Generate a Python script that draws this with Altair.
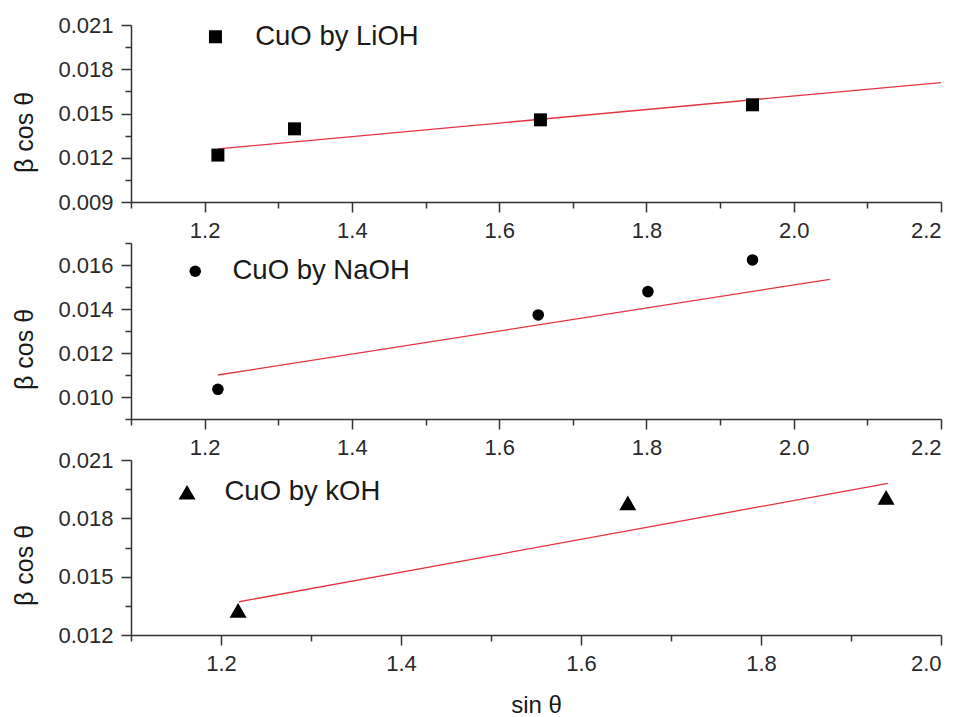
import altair as alt
import pandas as pd

FONT = "Liberation Sans"

# ---------------- data ----------------
# Panel 1: CuO by LiOH
li_label = "CuO by LiOH"
li_x = [1.218, 1.322, 1.656, 1.944]
li_y = [0.01218, 0.01396, 0.01457, 0.01559]
li_fit_x = [1.218, 2.2]
li_fit_y = [0.0126, 0.0171]

# Panel 2: CuO by NaOH
na_label = "CuO by NaOH"
na_x = [1.218, 1.653, 1.802, 1.944]
na_y = [0.01035, 0.01373, 0.01479, 0.01623]
na_fit_x = [1.218, 2.049]
na_fit_y = [0.0110, 0.01535]

# Panel 3: CuO by kOH
k_label = "CuO by kOH"
k_x = [1.219, 1.652, 1.939]
k_y = [0.01327, 0.01879, 0.01908]
k_fit_x = [1.22, 1.941]
k_fit_y = [0.01371, 0.0198]

# axis ranges and tick values
x_dom_a = [1.1, 2.2]
x_major_a = [1.2, 1.4, 1.6, 1.8, 2.0, 2.2]
x_minor_a = [1.1, 1.3, 1.5, 1.7, 1.9, 2.1]
x_dom_b = [1.1, 2.0]
x_major_b = [1.2, 1.4, 1.6, 1.8, 2.0]
x_minor_b = [1.1, 1.3, 1.5, 1.7, 1.9]

y_dom_1 = [0.009, 0.021]
y_major_1 = [0.009, 0.012, 0.015, 0.018, 0.021]
y_minor_1 = [0.0105, 0.0135, 0.0165, 0.0195]
y_dom_2 = [0.009, 0.017]
y_major_2 = [0.010, 0.012, 0.014, 0.016]
y_minor_2 = [0.009, 0.011, 0.013, 0.015, 0.017]
y_dom_3 = [0.012, 0.021]
y_major_3 = [0.012, 0.015, 0.018, 0.021]
y_minor_3 = [0.0135, 0.0165, 0.0195]

Y_TITLE = "β cos θ"
X_TITLE = "sin θ"


def panel(px, py, fx, fy, label, shape, size, xdom, xmaj, xmin, ydom, ymaj,
          ymin, height, leg_x, leg_y, leg_off, title_y, with_xtitle):
    pts = pd.DataFrame({"x": px, "y": py, "series": [label] * len(px)})
    fit = pd.DataFrame({"x": fx, "y": fy})
    xs = alt.Scale(domain=xdom, nice=False, zero=False)
    ys = alt.Scale(domain=ydom, nice=False, zero=False)

    xmaj_kwargs = dict(values=xmaj, format=".1f", tickSize=10, labelPadding=8,
                       orient="bottom", grid=False)
    if with_xtitle:
        xmaj_kwargs.update(title=X_TITLE, titleY=77, titleBaseline="alphabetic",
                           titleFontSize=24)
    else:
        xmaj_kwargs.update(title=None)
    major_x = alt.Axis(**xmaj_kwargs)
    major_y = alt.Axis(values=ymaj, format=".3f", tickSize=10, labelPadding=8,
                       orient="left", grid=False, title=Y_TITLE,
                       titleX=-119, titleY=title_y, titleBaseline="top",
                       titleAngle=270, titleAlign="center")
    minor_x = alt.Axis(values=xmin, labels=False, tickSize=6, domain=False,
                       orient="bottom", grid=False, title=None)
    minor_y = alt.Axis(values=ymin, labels=False, tickSize=6, domain=False,
                       orient="left", grid=False, title=None)

    line = alt.Chart(fit).mark_line(color="#e5323f", strokeWidth=1.3).encode(
        x=alt.X("x:Q", scale=xs, axis=minor_x),
        y=alt.Y("y:Q", scale=ys, axis=minor_y),
    )
    points = alt.Chart(pts).mark_point(
        filled=True, size=size, color="black", opacity=1
    ).encode(
        x=alt.X("x:Q", scale=xs, axis=major_x),
        y=alt.Y("y:Q", scale=ys, axis=major_y),
        shape=alt.Shape(
            "series:N",
            scale=alt.Scale(domain=[label], range=[shape]),
            legend=alt.Legend(
                orient="none", legendX=leg_x, legendY=leg_y, title=None,
                labelFont=FONT, labelFontSize=27.5, labelColor="#1a1a1a",
                labelOffset=leg_off, labelLimit=500, padding=0,
                symbolSize=size, symbolFillColor="black",
                symbolStrokeColor="black", symbolStrokeWidth=0,
                symbolOpacity=1,
            ),
        ),
    )
    return alt.layer(line, points).resolve_axis(
        x="independent", y="independent"
    ).properties(width=810, height=height)


p1 = panel(li_x, li_y, li_fit_x, li_fit_y, li_label, "square", 169,
           x_dom_a, x_major_a, x_minor_a, y_dom_1, y_major_1, y_minor_1,
           177, 70.7, -2, 26, 107, False)
p2 = panel(na_x, na_y, na_fit_x, na_fit_y, na_label, "circle", 133,
           x_dom_a, x_major_a, x_minor_a, y_dom_2, y_major_2, y_minor_2,
           176, 50.5, 14.5, 23.5, 106, False)
p3 = panel(k_x, k_y, k_fit_x, k_fit_y, k_label, "triangle-up", 289,
           x_dom_b, x_major_b, x_minor_b, y_dom_3, y_major_3, y_minor_3,
           175, 42.3, 18.5, 23.7, 105, True)

chart = alt.vconcat(p1, p2, p3, spacing=41, bounds="flush").resolve_scale(
    x="independent", y="independent", shape="independent"
).properties(
    padding={"left": 11, "top": 14, "right": 2, "bottom": 0},
    background="white",
).configure_view(
    strokeWidth=0
).configure_axis(
    labelFont=FONT, labelFontSize=22, labelColor="#2a2a2a",
    titleFont=FONT, titleFontSize=25, titleFontWeight="normal",
    titleColor="#1a1a1a", domainColor="#333333", tickColor="#333333",
    domainWidth=1.5, tickWidth=1.5,
)

chart.save("out.html", embed_options={"renderer": "svg", "actions": False})
